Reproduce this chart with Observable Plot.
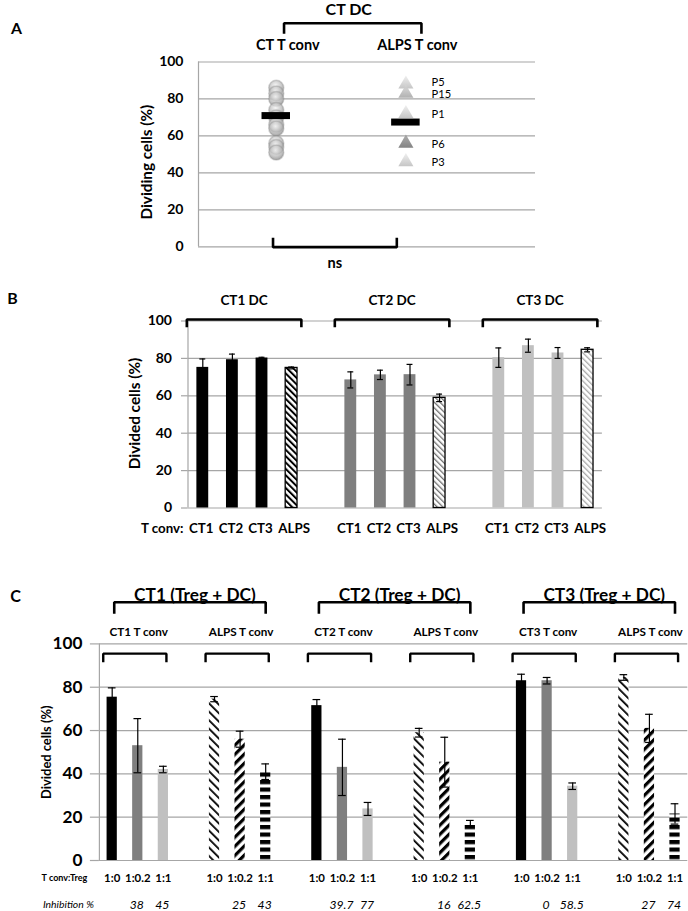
<!DOCTYPE html>
<html>
<head>
<meta charset="utf-8">
<script src="https://cdn.jsdelivr.net/npm/d3@7"></script>
<script src="https://cdn.jsdelivr.net/npm/@observablehq/plot@0.6"></script>
<style>
  body { margin: 0; background: #fff; }
  #wrap { position: relative; width: 688px; height: 911px; overflow: hidden; background: #fff; }
</style>
</head>
<body>
<div id="wrap"></div>
<script>
// ---------------- DATA ----------------
const yTicks = [0, 20, 40, 60, 80, 100];

// Panel A
const aTitle = "CT DC";
const aGroups = ["CT T conv", "ALPS T conv"];
const aCTValues = [86, 83, 80, 74, 70, 66, 64, 56, 54, 51];
const aALPSPatients = ["P5", "P15", "P1", "P6", "P3"];
const aALPSValues = [88, 83, 72, 56, 46];
const aMeans = [71, 67.5];
const aYLabel = "Dividing cells (%)";
const aStat = "ns";

// Panel B
const bDCs = ["CT1 DC", "CT2 DC", "CT3 DC"];
const bTconv = ["CT1", "CT2", "CT3", "ALPS"];
const bValues = [
  [75.2, 79.3, 80.2, 74.9],
  [68.5, 71.2, 71.3, 58.9],
  [80.4, 86.8, 82.9, 84.6]
];
const bErrors = [
  [4.5, 3.0, 0.4, 0.5],
  [4.3, 2.5, 5.5, 2.0],
  [5.2, 3.5, 2.9, 1.1]
];
const bYLabel = "Divided cells (%)";
const bXPrefix = "T conv:";

// Panel C
const cDCs = ["CT1 (Treg + DC)", "CT2 (Treg + DC)", "CT3 (Treg + DC)"];
const cTconv = ["CT1 T conv", "ALPS T conv", "CT2 T conv", "ALPS T conv", "CT3 T conv", "ALPS T conv"];
const cRatios = ["1:0", "1:0.2", "1:1"];
const cValues = [
  [75.4, 53.0, 42.0],
  [74.5, 56.0, 41.0],
  [71.5, 43.0, 23.8],
  [59.0, 45.4, 17.0],
  [83.0, 83.0, 34.3],
  [84.5, 61.0, 21.5]
];
const cErrors = [
  [4.3, 12.5, 1.5],
  [1.2, 3.7, 3.6],
  [2.8, 13.0, 3.0],
  [2.0, 11.5, 1.5],
  [3.0, 1.5, 1.5],
  [1.3, 6.5, 4.7]
];
const cInhibition = [
  ["", "38", "45"],
  ["", "25", "43"],
  ["", "39.7", "77"],
  ["", "16", "62.5"],
  ["", "0", "58.5"],
  ["", "27", "74"]
];
const cYLabel = "Divided cells (%)";
const cRatioLabel = "T conv:Treg";
const cInhibLabel = "Inhibition %";

// ---------------- STYLE ----------------
const FONT = "Lato, 'Open Sans', 'DejaVu Sans', sans-serif";
const GRID = "#a6a6a6";
const shades = ["#000000", "#7f7f7f", "#c0c0c0"];
const bAlpsFill = ["url(#pB0)", "url(#pB1)", "url(#pB2)"];
const cAlpsFill = ["url(#pC0)", "url(#pC1)", "url(#pC2)"];
const triFill = {P5: "url(#triL)", P15: "url(#triM)", P1: "url(#triL)", P6: "url(#triD)", P3: "url(#triL)"};

// font size that makes a sample string as wide as it is in the reference
const ctx = document.createElement("canvas").getContext("2d");
function fit(sample, width, weight = "bold", style = "normal") {
  ctx.font = `${style} ${weight} 100px ${FONT}`;
  const w = ctx.measureText(sample).width || 1;
  return Math.round(1000 * width / w) / 10;
}

const wrap = document.getElementById("wrap");
const NS = "http://www.w3.org/2000/svg";
function addDefs(svg, html) {
  const defs = document.createElementNS(NS, "defs");
  defs.innerHTML = html;
  svg.insertBefore(defs, svg.firstChild);
}
function place(svg, top) {
  svg.style.position = "absolute";
  svg.style.left = "0px";
  svg.style.top = top + "px";
  svg.style.overflow = "visible";
  wrap.appendChild(svg);
}
function brackets(list, yTop, yEnd, sw) {
  const pts = list.flatMap((b, k) => [
    {k, x: b.x1, y: yEnd}, {k, x: b.x1, y: yTop}, {k, x: b.x2, y: yTop}, {k, x: b.x2, y: yEnd}
  ]);
  return Plot.line(pts, {x: "x", y: "y", z: "k", stroke: "black", strokeWidth: sw,
    strokeLinejoin: "miter", strokeLinecap: "butt"});
}
const txt = (o) => Object.assign({fill: "black", fontWeight: "bold", textAnchor: "middle", lineAnchor: "middle"}, o);
const baseStyle = {fontFamily: FONT, fontWeight: "bold", color: "black", background: "transparent"};

// ---------------- PANEL A ----------------
{
  const xmin = -0.6, xmax = 2;
  const ctI = 0, alpsI = 1;
  const top = {x1: ctI + 0.06, x2: alpsI + 0.12};
  const bottom = {x1: ctI - 0.025, x2: alpsI - 0.07};
  const alps = aALPSValues.map((v, i) => ({p: aALPSPatients[i], v}));
  const pSize = fit("P15", 19.5, "normal");
  const pLabel = (rows, dy) => Plot.text(rows, txt({x: () => alpsI, y: "v", text: "p", dx: 25.7, dy, textAnchor: "start",
    fontSize: pSize, fontWeight: "normal"}));
  const svg = Plot.plot({
    width: 688, height: 280,
    marginTop: 61.5, marginBottom: 33.7, marginLeft: 198, marginRight: 153,
    x: {domain: [xmin, xmax], axis: null},
    y: {domain: [0, 100], axis: null},
    color: {type: "identity"},
    style: baseStyle,
    marks: [
      Plot.gridY(yTicks, {stroke: GRID, strokeOpacity: 1, strokeWidth: 1.2}),
      Plot.ruleX([xmin], {y1: 0, y2: 100, stroke: GRID, strokeWidth: 1.2}),
      Plot.axisY(yTicks, {tickSize: 0, tickPadding: 15, label: null, fontSize: fit("100", 24.3), fontWeight: "bold"}),
      Plot.dot(aCTValues, {x: () => ctI, y: d => d, r: 7.5, fill: "url(#sphere)", fillOpacity: 0.8,
        stroke: "#8a8a8a", strokeOpacity: 0.35}),
      Plot.dot(alps, {x: () => alpsI, y: "v", symbol: "triangle", r: 5.6, fill: d => triFill[d.p], fillOpacity: 0.85}),
      Plot.ruleY(aMeans, {y: d => d, x1: (d, i) => i - 0.11, x2: (d, i) => i + 0.11, stroke: "black", strokeWidth: 7}),
      pLabel(alps.filter(d => d.p === "P5"), -1.5),
      pLabel(alps.filter(d => d.p !== "P5"), 1),
      brackets([top], 121, 115.3, 2.6),
      brackets([bottom], -0.2, 4.9, 2.6),
      Plot.text([aTitle], txt({x: () => (top.x1 + top.x2) / 2, frameAnchor: "top", dy: -52.3, dx: -4, fontSize: fit("CT DC", 46.7)})),
      Plot.text(aGroups, txt({x: (d, i) => i, frameAnchor: "top", dy: -16.5, dx: 11.5, fontSize: fit("CT T conv", 65)})),
      Plot.text([aStat], txt({x: () => (bottom.x1 + bottom.x2) / 2, frameAnchor: "bottom", dy: 17, fontSize: fit("ns", 14.7)})),
      Plot.text([aYLabel], txt({frameAnchor: "left", dx: -51.3, dy: 7.8, rotate: -90, fontSize: fit(aYLabel, 115)})),
      Plot.text(["A"], txt({frameAnchor: "top-left", dx: -182, dy: -33.5, fontSize: fit("A", 11)}))
    ]
  });
  addDefs(svg, `
    <radialGradient id="sphere" cx="45%" cy="35%" r="65%">
      <stop offset="0%" stop-color="#f4f4f4"/><stop offset="65%" stop-color="#b8b8b8"/><stop offset="100%" stop-color="#8c8c8c"/>
    </radialGradient>
    <linearGradient id="triL" x1="0" y1="0" x2="0" y2="1">
      <stop offset="0%" stop-color="#ededed"/><stop offset="100%" stop-color="#bcbcbc"/>
    </linearGradient>
    <linearGradient id="triM" x1="0" y1="0" x2="0" y2="1">
      <stop offset="0%" stop-color="#d8d8d8"/><stop offset="100%" stop-color="#a3a3a3"/>
    </linearGradient>
    <linearGradient id="triD" x1="0" y1="0" x2="0" y2="1">
      <stop offset="0%" stop-color="#a0a0a0"/><stop offset="100%" stop-color="#6e6e6e"/>
    </linearGradient>`);
  place(svg, 0);
}

// ---------------- PANEL B ----------------
{
  const per = bTconv.length + 1;
  const nSlots = bDCs.length * per - 1;
  const bars = bValues.flatMap((row, g) => row.map((v, j) => ({
    g, j, t: bTconv[j], v, e: bErrors[g][j], slot: g * per + j,
    alps: bTconv[j] === "ALPS"
  })));
  const groups = bDCs.map((name, g) => ({name, x1: g * per - 0.54, x2: g * per + bTconv.length - 1 + 0.33}));
  const caps = bars.flatMap(d => [{slot: d.slot, y: d.v - d.e}, {slot: d.slot, y: d.v + d.e}]);
  const xs = fit("CT1", 24.5);
  const svg = Plot.plot({
    width: 688, height: 275,
    marginTop: 40.5, marginBottom: 47.5, marginLeft: 187.5, marginRight: 86.1,
    x: {domain: [-0.5, nSlots - 0.5], axis: null},
    y: {domain: [0, 100], axis: null},
    color: {type: "identity"},
    style: baseStyle,
    marks: [
      Plot.gridY(yTicks, {stroke: GRID, strokeOpacity: 1, strokeWidth: 1.2}),
      Plot.ruleX([-0.5], {y1: 0, y2: 100, stroke: GRID, strokeWidth: 1.2}),
      Plot.axisY(yTicks, {tickSize: 6.5, tickPadding: 9.5, stroke: GRID, strokeWidth: 1.2, label: null,
        fontSize: fit("100", 24.3), fontWeight: "bold"}),
      Plot.rect(bars, {x1: d => d.slot - 0.2, x2: d => d.slot + 0.2, y1: 0, y2: "v",
        fill: d => d.alps ? bAlpsFill[d.g] : shades[d.g],
        stroke: d => d.alps ? "black" : "none", strokeWidth: 1.3}),
      Plot.ruleX(bars, {x: "slot", y1: d => d.v - d.e, y2: d => d.v + d.e, stroke: "black", strokeWidth: 1.2}),
      Plot.ruleY(caps, {y: "y", x1: d => d.slot - 0.1, x2: d => d.slot + 0.1, stroke: "black", strokeWidth: 1.2}),
      brackets(groups, 100.8, 96.7, 2.6),
      Plot.text(groups, txt({x: d => (d.x1 + d.x2) / 2, text: "name", frameAnchor: "top", dy: -20.5, fontSize: fit("CT1 DC", 47.3)})),
      Plot.text(bars.filter(d => !d.alps), txt({x: "slot", text: "t", frameAnchor: "bottom", dy: 20.5, dx: -1.5, fontSize: xs})),
      Plot.text(bars.filter(d => d.alps), txt({x: "slot", text: "t", frameAnchor: "bottom", dy: 20.5, dx: 2.5, fontSize: xs})),
      Plot.text([bXPrefix], txt({frameAnchor: "bottom-left", dx: -4.5, dy: 20.5, textAnchor: "end", fontSize: xs})),
      Plot.text([bYLabel], txt({frameAnchor: "left", dx: -52.5, dy: -1, rotate: -90, fontSize: fit(bYLabel, 111.7)})),
      Plot.text(["B"], txt({frameAnchor: "top-left", dx: -175.5, dy: -22.5, fontSize: fit("B", 10.5)}))
    ]
  });
  addDefs(svg, `
    <pattern id="pB0" width="4.5" height="4.5" patternUnits="userSpaceOnUse" patternTransform="rotate(-45)">
      <rect width="4.5" height="4.5" fill="white"/><rect width="2" height="4.5" fill="black"/>
    </pattern>
    <pattern id="pB1" width="4" height="4" patternUnits="userSpaceOnUse" patternTransform="rotate(-45)">
      <rect width="4" height="4" fill="white"/><rect width="1.3" height="4" fill="#6f6f6f"/>
    </pattern>
    <pattern id="pB2" width="4" height="4" patternUnits="userSpaceOnUse" patternTransform="rotate(-45)">
      <rect width="4" height="4" fill="white"/><rect width="1.3" height="4" fill="#a8a8a8"/>
    </pattern>`);
  place(svg, 280);
}

// ---------------- PANEL C ----------------
{
  const per = cRatios.length + 1;
  const nSlots = cTconv.length * per - 1;
  const bars = cValues.flatMap((row, s) => row.map((v, r) => ({
    s, r, v, e: cErrors[s][r], slot: s * per + r, ratio: cRatios[r], inhib: cInhibition[s][r],
    alps: cTconv[s].startsWith("ALPS")
  })));
  const subs = cTconv.map((name, s) => ({name, x1: s * per - 0.35, x2: s * per + cRatios.length - 1 + 0.12, mid: s * per + 1}));
  const bigs = cDCs.map((name, g) => ({name, x1: g * 2 * per + 0.08, x2: g * 2 * per + per + cRatios.length - 1}));
  const caps = bars.flatMap(d => [{slot: d.slot, y: d.v - d.e}, {slot: d.slot, y: d.v + d.e}]);
  const rs = fit("1:0.2", 25.5);
  const svg = Plot.plot({
    width: 688, height: 356,
    marginTop: 88.4, marginBottom: 51, marginLeft: 98.9, marginRight: 0.7,
    x: {domain: [-0.5, nSlots - 0.5], axis: null},
    y: {domain: [0, 100], axis: null},
    color: {type: "identity"},
    style: baseStyle,
    marks: [
      Plot.gridY(yTicks, {stroke: GRID, strokeOpacity: 1, strokeWidth: 1.2}),
      Plot.ruleX([-0.5], {y1: 0, y2: 100, stroke: GRID, strokeWidth: 1.2}),
      Plot.axisY(yTicks, {tickSize: 9, tickPadding: 8, stroke: GRID, strokeWidth: 1.2, label: null,
        fontSize: fit("100", 30), fontWeight: "bold"}),
      Plot.rect(bars, {x1: d => d.slot - 0.2, x2: d => d.slot + 0.2, y1: 0, y2: "v",
        fill: d => d.alps ? cAlpsFill[d.r] : shades[d.r]}),
      Plot.ruleX(bars, {x: "slot", y1: d => d.v - d.e, y2: d => d.v + d.e, stroke: "black", strokeWidth: 1.2}),
      Plot.ruleY(caps, {y: "y", x1: d => d.slot - 0.15, x2: d => d.slot + 0.15, stroke: "black", strokeWidth: 1.2}),
      brackets(subs, 95.5, 91.5, 2.4),
      brackets(bigs, 119.25, 113.9, 2.6),
      Plot.text(bigs, txt({x: d => (d.x1 + d.x2) / 2, text: "name", frameAnchor: "top", dy: -48.4, dx: 5,
        fontSize: fit("CT1 (Treg + DC)", 122)})),
      Plot.text(subs, txt({x: "mid", text: "name", frameAnchor: "top", dy: -11.7, dx: 1, fontSize: fit("CT1 T conv", 59)})),
      Plot.text(bars, txt({x: "slot", text: "ratio", frameAnchor: "bottom", dy: 17.5, fontSize: rs})),
      Plot.text(bars.filter(d => d.inhib !== ""), txt({x: "slot", text: "inhib", frameAnchor: "bottom", dy: 44.5, dx: -1,
        fontSize: fit("39.7", 24, "normal", "italic"), fontWeight: "normal", fontStyle: "italic"})),
      Plot.text([cRatioLabel], txt({frameAnchor: "bottom-left", dx: -35, dy: 17.5, fontSize: fit(cRatioLabel, 46)})),
      Plot.text([cInhibLabel], txt({frameAnchor: "bottom-left", dx: -31, dy: 44.5,
        fontSize: fit(cInhibLabel, 51, "normal", "italic"), fontWeight: "normal", fontStyle: "italic"})),
      Plot.text([cYLabel], txt({frameAnchor: "left", dx: -52.2, dy: 0, rotate: -90, fontSize: fit(cYLabel, 93.3)})),
      Plot.text(["C"], txt({frameAnchor: "top-left", dx: -83.9, dy: -46.7, fontSize: fit("C", 10.7)}))
    ]
  });
  addDefs(svg, `
    <pattern id="pC0" width="6" height="6" patternUnits="userSpaceOnUse" patternTransform="rotate(-45)">
      <rect width="6" height="6" fill="white"/><rect width="1.8" height="6" fill="black"/>
    </pattern>
    <pattern id="pC1" width="6.5" height="6.5" patternUnits="userSpaceOnUse" patternTransform="rotate(45)">
      <rect width="6.5" height="6.5" fill="white"/><rect width="3.2" height="6.5" fill="black"/>
    </pattern>
    <pattern id="pC2" width="8" height="7.5" patternUnits="userSpaceOnUse">
      <rect width="8" height="7.5" fill="white"/><rect width="8" height="4.2" fill="black"/>
    </pattern>`);
  place(svg, 555);
}
</script>
</body>
</html>
